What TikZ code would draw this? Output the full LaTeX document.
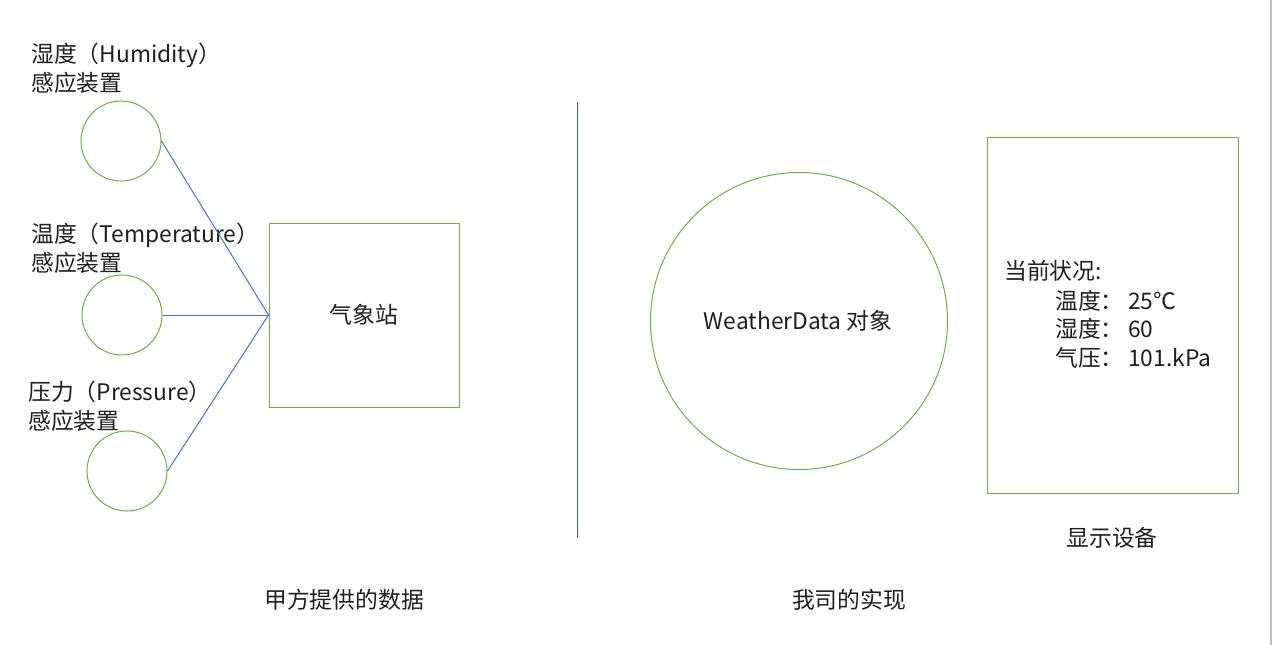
\documentclass[tikz,border=0pt]{standalone}
\usepackage{fontspec}
\setmainfont{Noto Sans CJK SC}
\begin{document}
\begin{tikzpicture}[x=1pt,y=-1pt,
  txt/.style={font=\fontsize{22.8}{28.5}\selectfont,inner sep=0pt,text=black!88},
  sensor/.style={circle,draw=gdraw,line width=1pt,minimum size=80pt,inner sep=0pt},
  gbox/.style={rectangle,draw=gdraw,line width=1pt,inner sep=0pt},
  wire/.style={draw=bwire,line width=1pt}]
\definecolor{gdraw}{HTML}{70AD47}
\definecolor{bwire}{HTML}{4472C4}
\definecolor{divc}{HTML}{3A5A98}
\definecolor{edgec}{HTML}{BFBFBF}
\useasboundingbox[fill=white] (0,0) rectangle (1275,645);
% labels
\node[txt,align=left,anchor=west] (lhum) at (31,68) {湿度（Humidity）\\感应装置};
\node[txt,align=left,anchor=west] (ltem) at (31,248) {温度（Temperature）\\感应装置};
\node[txt,align=left,anchor=west] (lpre) at (28,406) {压力（Pressure）\\感应装置};
% sensors
\node[sensor] (hum) at (121,141) {};
\node[sensor] (tem) at (122,315) {};
\node[sensor] (pre) at (127,471) {};
% station
\node[gbox,minimum width=190pt,minimum height=184pt] (st) at (364,315) {};
\node[txt] (stl) at (364,315) {气象站};
\draw[wire] (hum.east) -- (st.west);
\draw[wire] (tem.east) -- (st.west);
\draw[wire] (pre.east) -- (st.west);
% divider
\coordinate (dtop) at (577,102);
\coordinate (dbot) at (577,538);
\draw[divc,line width=0.9pt] (dtop) -- (dbot);
% weather data
\node[circle,draw=gdraw,line width=1pt,minimum size=297pt,inner sep=0pt] (wd) at (799,321) {};
\node[txt] (wdl) at (798,321) {WeatherData 对象};
% display
\node[gbox,minimum width=251pt,minimum height=356pt] (disp) at (1112.5,315) {};
\node[txt,anchor=west] (cur) at (1004,271) {当前状况:};
\node[txt,align=left,anchor=west] (labs) at (1055,329) {温度：\\湿度：\\气压：};
\node[txt,align=left,anchor=west] (vals) at (1128,329) {25℃\\60\\101.kPa};
\node[txt] (displ) at (1112,538) {显示设备};
% captions
\node[txt] (cap1) at (344,600) {甲方提供的数据};
\node[txt] (cap2) at (849,600) {我司的实现};
% right edge
\coordinate (etop) at (1271,0);
\coordinate (ebot) at (1271,645);
\draw[edgec,line width=1.5pt] (etop) -- (ebot);
\end{tikzpicture}
\end{document}
